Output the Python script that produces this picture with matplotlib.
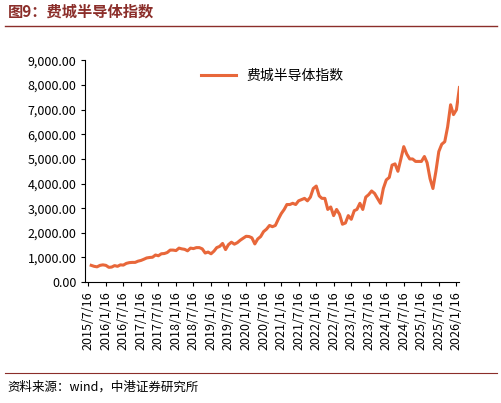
import pandas as pd
import matplotlib.pyplot as plt

plt.rcParams['font.family'] = ['Noto Sans CJK SC', 'DejaVu Sans']

# Data: monthly approximate index levels, 2015/7 - 2026/1
start = "2015-07-16"
values = [
    680, 640, 620, 680, 700, 680,
    600, 610, 670, 640, 700, 690, 760, 790, 800, 800, 850, 880,
    930, 980, 1000, 1010, 1100, 1070, 1150, 1160, 1200, 1300, 1300, 1280,
    1380, 1350, 1330, 1270, 1380, 1360, 1400, 1400, 1350, 1180, 1220, 1150,
    1260, 1400, 1450, 1570, 1320, 1520, 1620, 1540, 1600, 1700, 1780, 1860,
    1850, 1800, 1550, 1750, 1850, 2050, 2150, 2300, 2250, 2300, 2550, 2780,
    2950, 3150, 3150, 3200, 3150, 3300, 3350, 3400, 3300, 3450, 3800, 3900,
    3500, 3400, 3400, 2950, 3050, 2700, 2950, 2750, 2350, 2400, 2700, 2550,
    2900, 2950, 3200, 2950, 3450, 3550, 3700, 3600, 3400, 3200, 3800, 4150,
    4250, 4750, 4800, 4500, 5000, 5500, 5200, 5000, 5000, 4900, 4900, 4900,
    5100, 4850, 4200, 3800, 4500, 5300, 5600, 5700, 6300, 7200, 6800, 7000,
    7900,
]
tick_labels = [f"{y}/{m}/16" for y in range(2015, 2027) for m in (1, 7)][1:-1]
series_name = "费城半导体指数"
color = "#E8673A"


def main():
    dates = pd.date_range(start=start, periods=len(values), freq="MS") + pd.Timedelta(days=15)
    fig = plt.figure(figsize=(5.02, 4.03), dpi=100)
    ax = fig.add_axes([0.17, 0.30, 0.745, 0.55])
    ax.plot(dates, values, color=color, lw=2.2, label=series_name)

    ticks = pd.to_datetime([t.replace("/", "-") for t in tick_labels], format="%Y-%m-%d")
    ax.set_xticks(ticks)
    ax.set_xticklabels(tick_labels, rotation=90, fontsize=9)
    ax.set_xlim(ticks[0] - pd.Timedelta(days=30), ticks[-1] + pd.Timedelta(days=30))
    ax.set_ylim(0, 9000)
    ax.set_yticks(range(0, 9001, 1000))
    ax.set_yticklabels([f"{v:,.2f}" for v in range(0, 9001, 1000)], fontsize=9)
    for s in ("top", "right"):
        ax.spines[s].set_visible(False)
    ax.tick_params(length=3)
    ax.legend(loc="upper center", bbox_to_anchor=(0.5, 1.02), frameon=False,
              fontsize=10, handlelength=2.5)

    fig.text(0.015, 0.99, "图9：费城半导体指数", color="#8B2E2A", fontsize=11,
             fontweight="bold", va="top")
    fig.add_artist(plt.Line2D([0.01, 0.99], [0.935, 0.935], color="#8B2E2A", lw=1))
    fig.add_artist(plt.Line2D([0.01, 0.99], [0.075, 0.075], color="#8B2E2A", lw=0.8))
    fig.text(0.015, 0.055, "资料来源：wind，中港证券研究所", fontsize=9,
             style="italic", va="top")
    fig.savefig("out.png", dpi=100)


if __name__ == "__main__":
    main()
